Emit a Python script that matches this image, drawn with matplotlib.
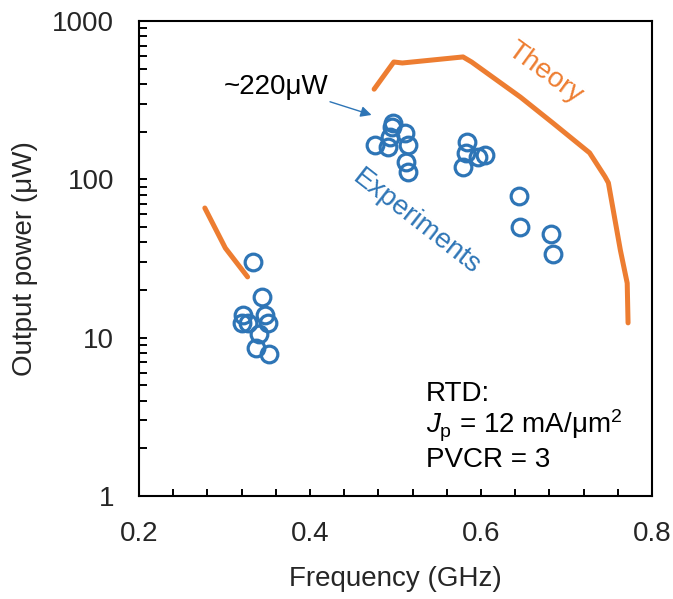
import matplotlib.pyplot as plt
import numpy as np
from matplotlib.ticker import FixedLocator, NullFormatter, LogLocator

plt.rcParams['font.family'] = ['Liberation Sans', 'DejaVu Sans']
plt.rcParams['mathtext.fontset'] = 'custom'
plt.rcParams['mathtext.rm'] = 'Liberation Sans'
plt.rcParams['mathtext.it'] = 'Liberation Sans:italic'

# theory curves (GHz, uW)
theory_lo_f = [0.277, 0.301, 0.327]
theory_lo_p = [65.9, 36.8, 24.2]

theory_hi_f = [0.475, 0.498, 0.508, 0.579, 0.589, 0.646, 0.684, 0.727,
               0.745, 0.749, 0.763, 0.771, 0.772]
theory_hi_p = [371, 551, 543, 593, 551, 331, 227, 147, 104, 95, 35.7, 22.1, 12.4]

# measured oscillators
exp_f = [0.333, 0.3435, 0.322, 0.320, 0.347, 0.351, 0.340, 0.3365, 0.352, 0.328,
         0.4975, 0.4956, 0.511, 0.494, 0.476, 0.4916, 0.515, 0.512, 0.515,
         0.584, 0.583, 0.596, 0.605, 0.579,
         0.644, 0.646, 0.682, 0.684]
exp_p = [30.1, 18.1, 13.9, 12.4, 13.9, 12.4, 10.6, 8.55, 7.87, 12.3,
         226, 213, 197, 186, 165, 159, 165, 129, 112,
         173, 146, 138, 142, 120,
         78.4, 50.2, 45.1, 33.7]

orange = '#ED7D31'
blue = '#2E75B6'
fs = 20

fig = plt.figure(figsize=(6.73, 5.99), dpi=100)
ax = fig.add_axes([139 / 673, 1 - 496 / 599, 513 / 673, 475 / 599])

ax.plot(theory_lo_f, theory_lo_p, color=orange, lw=3.6, solid_capstyle='round')
ax.plot(theory_hi_f, theory_hi_p, color=orange, lw=3.6, solid_capstyle='round',
        solid_joinstyle='round')
ax.plot(exp_f, exp_p, ls='none', marker='o', ms=12, mfc='none', mec=blue, mew=2.3)

ax.set_yscale('log')
ax.set_xlim(0.2, 0.8)
ax.set_ylim(1, 1000)

ax.xaxis.set_major_locator(FixedLocator([0.2, 0.4, 0.6, 0.8]))
ax.xaxis.set_minor_locator(FixedLocator(np.arange(0.24, 0.79, 0.04)))
ax.set_xticklabels(['0.2', '0.4', '0.6', '0.8'])
ax.yaxis.set_major_locator(FixedLocator([1, 10, 100, 1000]))
ax.yaxis.set_minor_locator(LogLocator(base=10, subs=np.arange(2, 10)))
ax.yaxis.set_minor_formatter(NullFormatter())
ax.set_yticklabels(['1', '10', '100', '1000'])

ax.tick_params(axis='both', which='both', direction='in', width=1.4,
               labelsize=fs, colors='black', labelcolor='#262626')
ax.tick_params(axis='x', which='both', length=5, pad=18)
ax.tick_params(axis='y', which='both', length=6, pad=18)
for s in ax.spines.values():
    s.set_linewidth(1.5)

ax.set_xlabel('Frequency (GHz)', fontsize=fs, color='#262626', labelpad=14)
ax.set_ylabel('Output power (μW)', fontsize=fs, color='#262626', labelpad=10)

ax.text(0.675, 469, 'Theory', color=orange, fontsize=fs, rotation=-36,
        ha='center', va='center', rotation_mode='anchor')
ax.text(0.525, 53.7, 'Experiments', color=blue, fontsize=fs, rotation=-38,
        ha='center', va='center', rotation_mode='anchor')

ax.text(0.2994, 383, '~220μW', fontsize=fs, color='black', ha='left', va='center')
ax.annotate('', xy=(0.472, 255), xytext=(0.4234, 309),
            arrowprops=dict(arrowstyle='-|>', color=blue, lw=1.0,
                            mutation_scale=16, shrinkA=0, shrinkB=0))

# device parameters
ax.text(0.5357, 4.0, 'RTD:', fontsize=fs, color='black', va='baseline')
ax.text(0.5357, 2.49, r'$J_\mathrm{p}$ = 12 mA/μm$^{2}$', fontsize=fs, color='black',
        va='baseline')
ax.text(0.5357, 1.52, 'PVCR = 3', fontsize=fs, color='black', va='baseline')

fig.savefig('out.png', dpi=100)
